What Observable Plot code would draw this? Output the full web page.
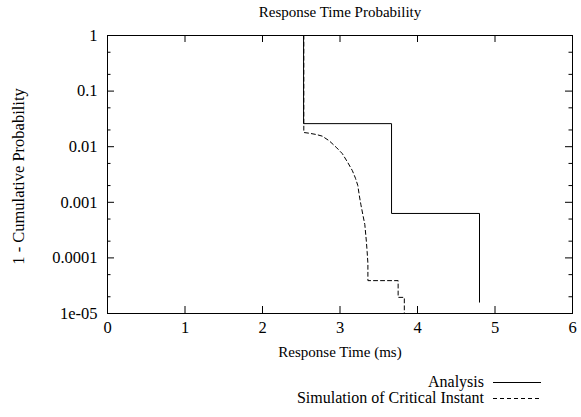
<!DOCTYPE html>
<html><head><meta charset="utf-8">
<script src="https://cdn.jsdelivr.net/npm/d3@7"></script>
<script src="https://cdn.jsdelivr.net/npm/@observablehq/plot@0.6"></script>
<style>
body{margin:0;background:#fff;font-family:"Liberation Serif","Times New Roman",serif;}
#wrap{position:relative;width:581px;height:417px;}
#legend{position:absolute;top:374px;right:40px;font-size:16px;line-height:16px;color:#000;}
.row{display:flex;align-items:center;justify-content:flex-end;height:16px;line-height:16px;}
.row svg{margin-left:9px;display:block;}
</style></head><body><div id="wrap"><div id="chart"></div><div id="legend"></div></div>
<script>
const titleText = "Response Time Probability";
const xLabel = "Response Time (ms)";
const yLabel = "1 - Cumulative Probability";
const xTicks = [0, 1, 2, 3, 4, 5, 6];
const yTicks = [1, 0.1, 0.01, 0.001, 0.0001, 0.00001];
const yTickLabels = ["1", "0.1", "0.01", "0.001", "0.0001", "1e-05"];
const yMinorTicks = [0.5, 0.2, 0.05, 0.02, 0.005, 0.002, 0.0005, 0.0002, 0.00005, 0.00002];
const seriesNames = ["Analysis", "Simulation of Critical Instant"];

// Analysis (drawn as steps)
const analysisTime = [0, 2.53, 3.665, 4.80];
const analysisProb = [1, 0.026, 0.00063, 0.000016];

// Simulation of Critical Instant
const simTime = [0, 2.533, 2.533, 2.60, 2.70, 2.77, 2.86, 2.95, 3.03, 3.10, 3.16, 3.20, 3.23, 3.25, 3.27, 3.30, 3.32, 3.34, 3.35, 3.36, 3.36, 3.75, 3.75, 3.83, 3.83];
const simProb = [1, 1, 0.018, 0.0175, 0.0165, 0.0155, 0.0128, 0.0098, 0.0075, 0.0052, 0.0037, 0.0027, 0.0020, 0.0013, 0.0009, 0.00055, 0.0004, 0.0002, 0.00013, 0.00008, 0.000039, 0.000039, 0.0000195, 0.0000195, 0.00001];

const analysis = analysisTime.map((t, i) => ({t, p: analysisProb[i]}));
const sim = simTime.map((t, i) => ({t, p: simProb[i]}));

const W = 581, H = 370, mL = 107, mR = 9, mT = 35, mB = 57;
const fw = W - mL - mR, fh = H - mT - mB;
const major = 7, minor = 3.5;

const chart = Plot.plot({
  width: W, height: H,
  marginLeft: mL, marginRight: mR, marginTop: mT, marginBottom: mB,
  style: {fontFamily: "'Liberation Serif','Times New Roman',serif", fontSize: "15px", color: "#000", background: "#fff"},
  x: {domain: [0, 6], axis: null},
  y: {type: "log", domain: [0.00001, 1], axis: null},
  marks: [
    Plot.line(analysis, {x: "t", y: "p", curve: "step-after", stroke: "#000", strokeWidth: 1}),
    Plot.line(sim, {x: "t", y: "p", stroke: "#000", strokeWidth: 1, strokeDasharray: "4,3"}),
    Plot.frame({stroke: "#000", strokeWidth: 1}),
    Plot.tickY(yTicks, {y: d => d, insetRight: fw - major, stroke: "#000"}),
    Plot.tickY(yTicks, {y: d => d, insetLeft: fw - major, stroke: "#000"}),
    Plot.tickY(yMinorTicks, {y: d => d, insetRight: fw - minor, stroke: "#000"}),
    Plot.tickY(yMinorTicks, {y: d => d, insetLeft: fw - minor, stroke: "#000"}),
    Plot.tickX(xTicks, {x: d => d, insetTop: fh - major, stroke: "#000"}),
    Plot.tickX(xTicks, {x: d => d, insetBottom: fh - major, stroke: "#000"}),
    Plot.axisY(yTicks, {label: null, tickSize: 0, tickPadding: 10, tickFormat: d => yTickLabels[yTicks.indexOf(d)], fontSize: 16.5}),
    Plot.axisX(xTicks, {label: null, tickSize: 0, tickPadding: 8, tickFormat: d => String(d), fontSize: 16.5}),
    Plot.text([titleText], {text: d => d, frameAnchor: "top", lineAnchor: "middle", dy: -23, fontSize: 15}),
    Plot.text([xLabel], {text: d => d, frameAnchor: "bottom", lineAnchor: "middle", dy: 39, fontSize: 15}),
    Plot.text([yLabel], {text: d => d, frameAnchor: "left", textAnchor: "middle", lineAnchor: "middle", dx: -89, dy: 2, rotate: -90, fontSize: 16.5})
  ]
});
document.getElementById("chart").appendChild(chart);

const legend = document.getElementById("legend");
const dashes = ["none", "4,3"];
seriesNames.forEach((name, i) => {
  const row = document.createElement("div");
  row.className = "row";
  const span = document.createElement("span");
  span.textContent = name;
  row.appendChild(span);
  const svg = d3.create("svg").attr("width", 48).attr("height", 10);
  svg.append("line").attr("x1", 0).attr("x2", 48).attr("y1", 5.5).attr("y2", 5.5)
    .attr("stroke", "#000").attr("stroke-width", 1).attr("stroke-dasharray", dashes[i]);
  row.appendChild(svg.node());
  legend.appendChild(row);
});
</script>
</body></html>
